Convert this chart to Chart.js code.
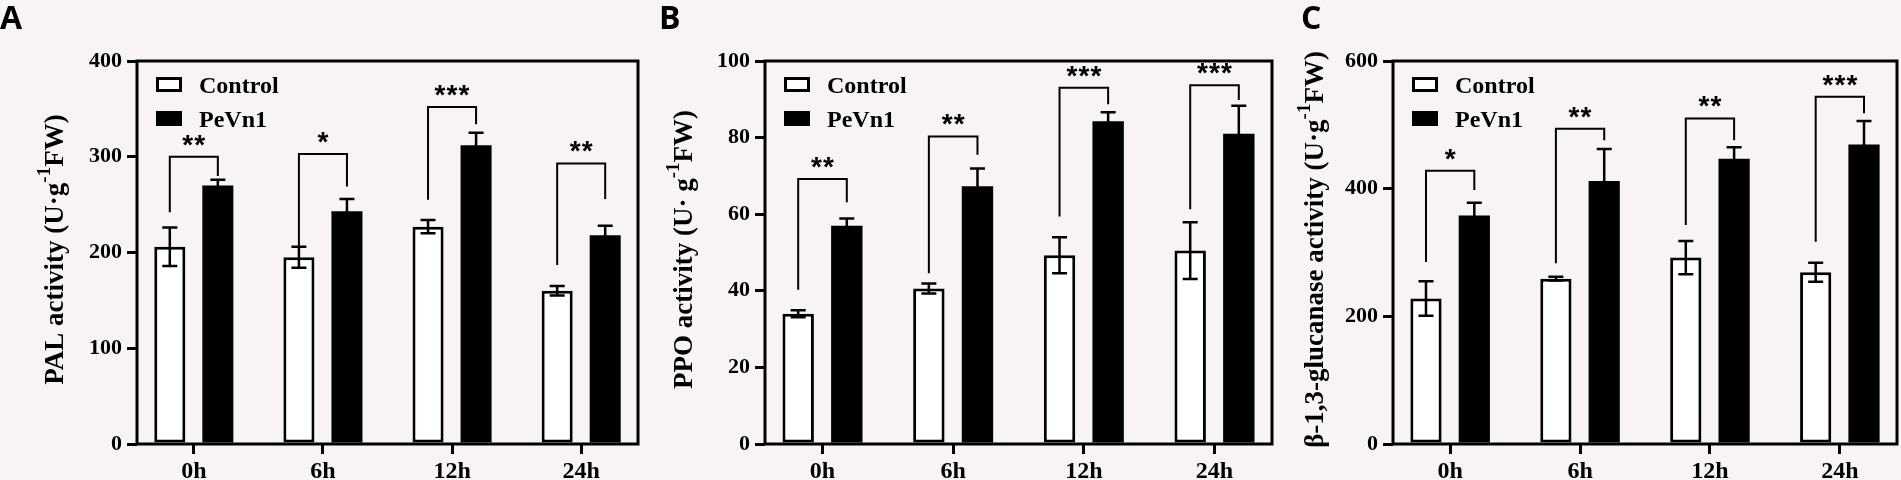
<!DOCTYPE html>
<html>
<head>
<meta charset="utf-8">
<title>PAL, PPO and β-1,3-glucanase activity</title>
<script src="https://cdn.jsdelivr.net/npm/chart.js@4.4.1/dist/chart.umd.min.js"></script>
<style>
  html, body { margin: 0; padding: 0; background: #f7f4f3; }
  #wrap { position: relative; width: 1901px; height: 480px; overflow: hidden; }
  canvas { position: absolute; top: 0; }
</style>
</head>
<body>
<div id="wrap">
  <canvas id="chartPAL" width="640" height="480" style="left:0;width:640px;height:480px"></canvas>
  <canvas id="chartPPO" width="634" height="480" style="left:640px;width:634px;height:480px"></canvas>
  <canvas id="chartGLU" width="627" height="480" style="left:1274px;width:627px;height:480px"></canvas>
</div>
<script>
// shared categories / series
const timePoints = ['0h', '6h', '12h', '24h'];
const seriesNames = ['Control', 'PeVn1'];

// A - PAL activity
const palTicks = [0, 100, 200, 300, 400];
const palControl = [206, 195, 227, 160];
const palControlErr = [20, 11, 7, 5];
const palPeVn1 = [270, 243, 312, 218];
const palPeVn1Err = [6, 13, 13, 10];
const palStars = ['**', '*', '***', '**'];
const palBracketTop = [300, 303, 352, 293];
const palBracketLeft = [242, 205, 255, 187];
const palBracketRight = [280, 269, 334, 256];

// B - PPO activity
const ppoTicks = [0, 20, 40, 60, 80, 100];
const ppoControl = [34.0, 40.6, 49.3, 50.5];
const ppoControlErr = [0.9, 1.3, 4.7, 7.4];
const ppoPeVn1 = [57.0, 67.3, 84.3, 81.0];
const ppoPeVn1Err = [1.9, 4.6, 2.3, 7.3];
const ppoStars = ['**', '**', '***', '***'];
const ppoBracketTop = [69.2, 80.3, 93.0, 93.7];
const ppoBracketLeft = [40.3, 44.6, 59.4, 61.3];
const ppoBracketRight = [63.1, 75.5, 88.7, 89.8];

// C - beta-1,3-glucanase activity
const gluTicks = [0, 200, 400, 600];
const gluControl = [228, 259, 292, 269];
const gluControlErr = [27, 3, 26, 15];
const gluPeVn1 = [358, 412, 447, 469];
const gluPeVn1Err = [20, 50, 18, 37];
const gluStars = ['*', '**', '**', '***'];
const gluBracketTop = [428, 494, 510, 544];
const gluBracketLeft = [285, 283, 343, 317];
const gluBracketRight = [398, 476, 476, 518];

const SERIF = '"Liberation Serif", "Times New Roman", serif';
const SANS = '"Liberation Sans", Arial, sans-serif';

function toPoints(values) {
    return values.map((v, i) => ({ x: i, y: v }));
}

function makePanel(p) {
    // draws frame, error bars, significance brackets, legend, axis title and panel letter
    const decor = {
        id: 'decor' + p.canvas,
        afterDatasetsDraw(chart) {
            const ctx = chart.ctx;
            const area = chart.chartArea;
            const y = chart.scales.y;
            ctx.save();
            ctx.strokeStyle = '#000';
            ctx.fillStyle = '#000';

            // error bars
            ctx.lineWidth = 2.5;
            chart.data.datasets.forEach((ds, d) => {
                const meta = chart.getDatasetMeta(d);
                meta.data.forEach((bar, i) => {
                    const v = ds.data[i].y;
                    const e = ds.errorBars[i];
                    const yTop = y.getPixelForValue(v + e);
                    const yBot = y.getPixelForValue(v - e);
                    ctx.beginPath();
                    ctx.moveTo(bar.x, yBot);
                    ctx.lineTo(bar.x, yTop);
                    ctx.moveTo(bar.x - 7.5, yTop);
                    ctx.lineTo(bar.x + 7.5, yTop);
                    ctx.moveTo(bar.x - 7.5, yBot);
                    ctx.lineTo(bar.x + 7.5, yBot);
                    ctx.stroke();
                });
            });

            // frame
            ctx.lineWidth = 3;
            ctx.strokeRect(area.left, area.top, area.right - area.left, area.bottom - area.top);

            // significance brackets
            const left = chart.getDatasetMeta(0).data;
            const right = chart.getDatasetMeta(1).data;
            ctx.lineWidth = 2;
            ctx.font = 'bold 28px ' + SANS;
            ctx.textAlign = 'center';
            ctx.textBaseline = 'alphabetic';
            p.bracketTop.forEach((top, i) => {
                const xL = left[i].x, xR = right[i].x;
                const yT = y.getPixelForValue(top);
                ctx.beginPath();
                ctx.moveTo(xL, y.getPixelForValue(p.bracketLeft[i]));
                ctx.lineTo(xL, yT);
                ctx.lineTo(xR, yT);
                ctx.lineTo(xR, y.getPixelForValue(p.bracketRight[i]));
                ctx.stroke();
                const stars = p.stars[i];
                const m = ctx.measureText('*');
                const base = yT - 11 - m.actualBoundingBoxDescent;
                const cx = (xL + xR) / 2;
                for (let k = 0; k < stars.length; k++) {
                    ctx.fillText('*', cx + (k - (stars.length - 1) / 2) * 12, base);
                }
            });

            // legend
            ctx.font = 'bold 24px ' + SERIF;
            ctx.textAlign = 'left';
            chart.data.datasets.forEach((ds, d) => {
                const bx = area.left + 19;
                const by = area.top + 16 + d * 34;
                ctx.fillStyle = ds.backgroundColor;
                ctx.fillRect(bx, by, 26, 15);
                ctx.lineWidth = 3;
                ctx.strokeRect(bx + 1.5, by + 1.5, 23, 12);
                ctx.fillStyle = '#000';
                ctx.fillText(ds.label, area.left + 62, by + 16);
            });
            ctx.restore();
        },
        afterDraw(chart) {
            const ctx = chart.ctx;
            const area = chart.chartArea;
            ctx.save();
            ctx.fillStyle = '#000';

            // rotated axis title with superscript
            const mainFont = 'bold 27px ' + SERIF;
            const supFont = 'bold 19px ' + SERIF;
            ctx.font = mainFont;
            const w1 = ctx.measureText(p.title[0]).width;
            const w3 = ctx.measureText(p.title[2]).width;
            ctx.font = supFont;
            const w2 = ctx.measureText(p.title[1]).width;
            const total = w1 + w2 + w3;
            ctx.translate(area.left - p.titleGap, (area.top + area.bottom) / 2 - 3);
            ctx.rotate(-Math.PI / 2);
            ctx.textAlign = 'left';
            ctx.textBaseline = 'alphabetic';
            let x = -total / 2;
            ctx.font = mainFont;
            ctx.fillText(p.title[0], x, 0);
            x += w1;
            ctx.font = supFont;
            ctx.fillText(p.title[1], x, -13);
            x += w2;
            ctx.font = mainFont;
            ctx.fillText(p.title[2], x, 0);
            ctx.restore();

            // panel letter
            ctx.save();
            ctx.fillStyle = '#000';
            ctx.font = 'bold 32px "Open Sans", ' + SANS;
            ctx.textAlign = 'left';
            ctx.textBaseline = 'alphabetic';
            ctx.fillText(p.letter, p.letterX, 29);
            ctx.restore();
        }
    };

    new Chart(document.getElementById(p.canvas), {
        type: 'bar',
        data: {
            datasets: [
                {
                    label: seriesNames[0],
                    data: toPoints(p.control),
                    errorBars: p.controlErr,
                    backgroundColor: '#ffffff',
                    borderColor: '#000000',
                    borderWidth: 3,
                    borderSkipped: false
                },
                {
                    label: seriesNames[1],
                    data: toPoints(p.pevn),
                    errorBars: p.pevnErr,
                    backgroundColor: '#000000',
                    borderColor: '#000000',
                    borderWidth: 0
                }
            ]
        },
        options: {
            responsive: false,
            animation: false,
            devicePixelRatio: 1,
            categoryPercentage: 0.744,
            barPercentage: 0.646,
            layout: { padding: { top: 61, right: p.padRight, left: 0, bottom: 0 } },
            plugins: {
                legend: { display: false },
                tooltip: { enabled: false }
            },
            scales: {
                x: {
                    type: 'linear',
                    min: -0.44,
                    max: 3.44,
                    offset: false,
                    border: { display: false },
                    grid: { offset: false, drawOnChartArea: false, color: '#000', lineWidth: 3, tickLength: 10 },
                    ticks: {
                        color: '#000',
                        font: { family: SERIF, size: 24, weight: 'bold' },
                        padding: 3,
                        maxRotation: 0,
                        autoSkip: false,
                        callback: (v) => timePoints[v]
                    },
                    afterBuildTicks: (scale) => {
                        scale.ticks = timePoints.map((t, i) => ({ value: i }));
                    },
                    afterFit: (scale) => { scale.height = 36; }
                },
                y: {
                    min: 0,
                    max: p.ticks[p.ticks.length - 1],
                    border: { display: false },
                    grid: { drawOnChartArea: false, color: '#000', lineWidth: 3, tickLength: 10 },
                    ticks: {
                        color: '#000',
                        font: { family: SERIF, size: 22, weight: 'bold' },
                        padding: 5
                    },
                    afterBuildTicks: (scale) => {
                        scale.ticks = p.ticks.map(v => ({ value: v }));
                    },
                    afterFit: (scale) => { scale.width = p.axisLeft; }
                }
            }
        },
        plugins: [decor]
    });
}

makePanel({
    canvas: 'chartPAL', letter: 'A', letterX: 0, axisLeft: 137, padRight: 2, titleGap: 74,
    title: ['PAL activity (U\u00b7g', '-1', 'FW)'],
    ticks: palTicks, control: palControl, controlErr: palControlErr,
    pevn: palPeVn1, pevnErr: palPeVn1Err, stars: palStars,
    bracketTop: palBracketTop, bracketLeft: palBracketLeft, bracketRight: palBracketRight
});

makePanel({
    canvas: 'chartPPO', letter: 'B', letterX: 19, axisLeft: 125, padRight: 2, titleGap: 73,
    title: ['PPO activity (U\u00b7 g', '-1', 'FW)'],
    ticks: ppoTicks, control: ppoControl, controlErr: ppoControlErr,
    pevn: ppoPeVn1, pevnErr: ppoPeVn1Err, stars: ppoStars,
    bracketTop: ppoBracketTop, bracketLeft: ppoBracketLeft, bracketRight: ppoBracketRight
});

makePanel({
    canvas: 'chartGLU', letter: 'C', letterX: 27, axisLeft: 119, padRight: 4, titleGap: 70,
    title: ['\u03b2-1,3-glucanase activity (U\u00b7g', '-1', 'FW)'],
    ticks: gluTicks, control: gluControl, controlErr: gluControlErr,
    pevn: gluPeVn1, pevnErr: gluPeVn1Err, stars: gluStars,
    bracketTop: gluBracketTop, bracketLeft: gluBracketLeft, bracketRight: gluBracketRight
});
</script>
</body>
</html>
